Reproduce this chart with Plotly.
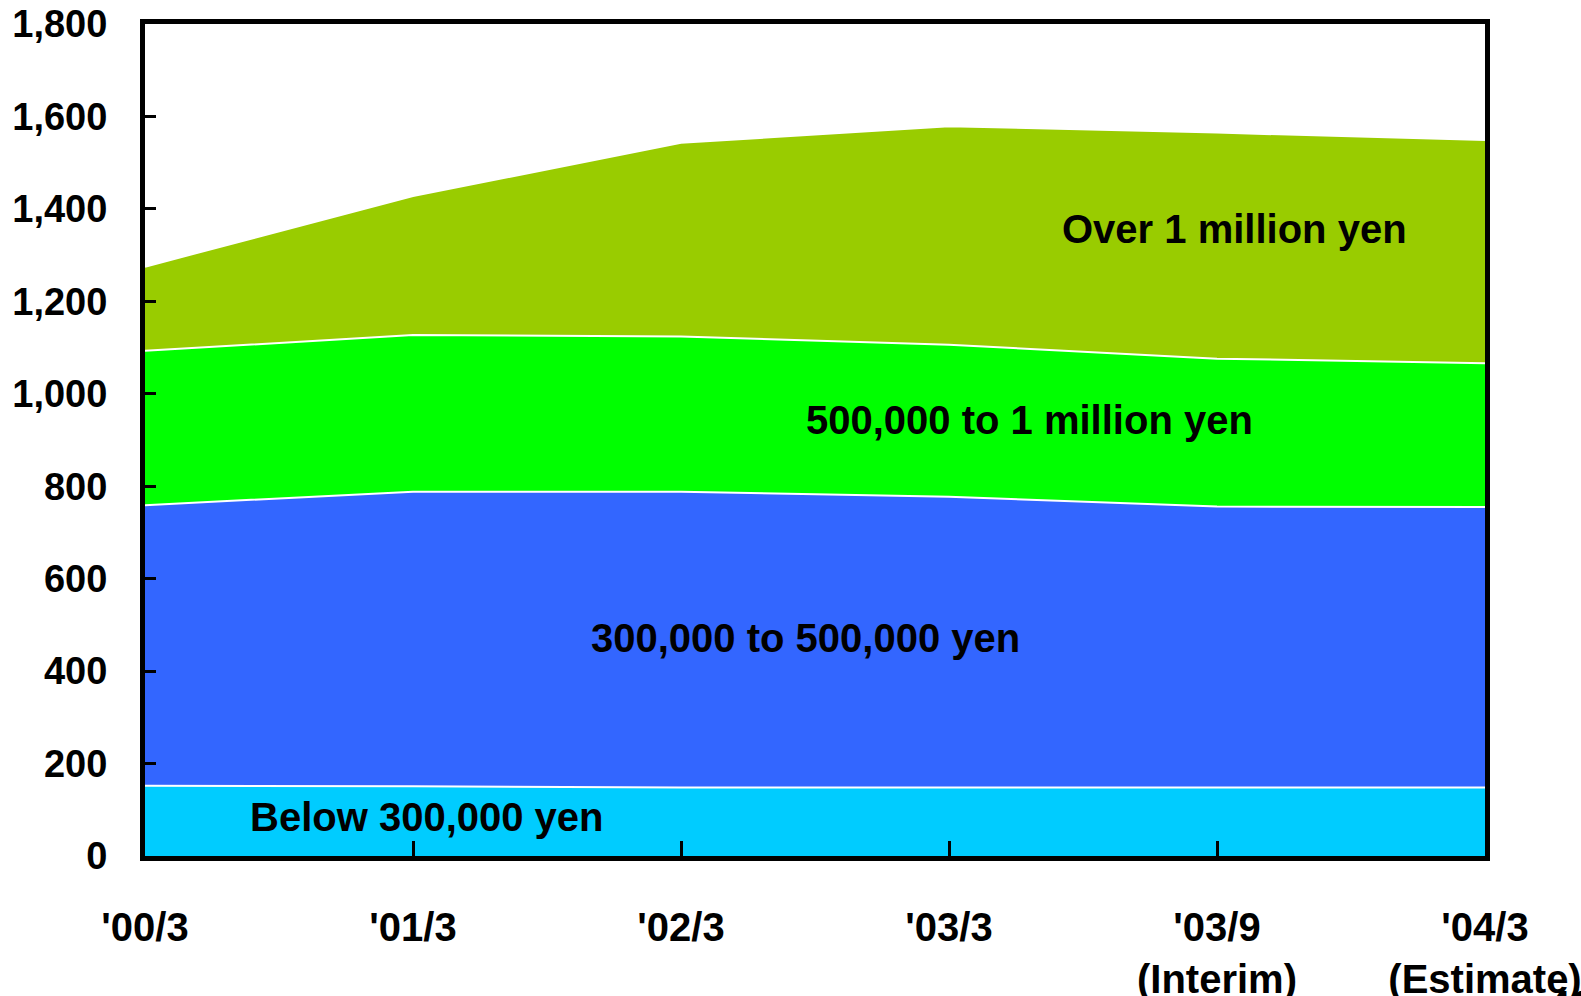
import plotly.graph_objects as go

# Fiscal periods and stacked series (count by bracket)
periods = ["'00/3", "'01/3", "'02/3", "'03/3", "'03/9<br>(Interim)", "'04/3<br>(Estimate)"]
below_300k = [152, 151, 148, 148, 148, 148]
from_300k_to_500k = [607, 637, 640, 629, 608, 607]
from_500k_to_1m = [334, 339, 336, 329, 320, 311]
over_1m = [182, 301, 419, 473, 489, 483]

series_names = ["Below 300,000 yen", "300,000 to 500,000 yen",
                "500,000 to 1 million yen", "Over 1 million yen"]
series_values = [below_300k, from_300k_to_500k, from_500k_to_1m, over_1m]
series_colors = ["#00CCFF", "#3366FF", "#00FF00", "#99CC00"]

y_ticks = [0, 200, 400, 600, 800, 1000, 1200, 1400, 1600, 1800]
y_tick_text = ["0", "200", "400", "600", "800", "1,000", "1,200", "1,400", "1,600", "1,800"]

x_pos = list(range(len(periods)))

fig = go.Figure()
for name, vals, color in zip(series_names, series_values, series_colors):
    fig.add_trace(go.Scatter(
        x=x_pos, y=vals, name=name, mode="lines",
        stackgroup="one", fillcolor=color,
        line=dict(color="white", width=2),
        hoverinfo="name+y",
    ))

label_font = dict(family="Liberation Sans, Arial, sans-serif", size=40, color="black", weight="bold")
# In-area series labels
labels = [
    ("Over 1 million yen", 4.065, 1357),
    ("500,000 to 1 million yen", 3.30, 943),
    ("300,000 to 500,000 yen", 2.465, 472),
    ("Below 300,000 yen", 1.054, 85),
]
for text, lx, ly in labels:
    fig.add_annotation(x=lx, y=ly, xref="x", yref="y", text=text, showarrow=False,
                       font=label_font, xanchor="center", yanchor="middle")

# Page number peeking in at the bottom-right corner
fig.add_annotation(x=1.0455, y=-0.150, xref="paper", yref="paper", text="41", showarrow=False,
                   font=label_font, xanchor="left", yanchor="top")

x_tick_font = dict(family="Liberation Sans, Arial, sans-serif", size=40, color="black", weight="bold")
y_tick_font = dict(family="Liberation Sans, Arial, sans-serif", size=38, color="black", weight="bold")

fig.update_layout(
    width=1581, height=996,
    margin=dict(l=145, r=96, t=24, b=140, autoexpand=False),
    paper_bgcolor="white", plot_bgcolor="white",
    showlegend=False,
    xaxis=dict(
        range=[0, 5], tickmode="array", tickvals=x_pos, ticktext=periods,
        ticks="inside", ticklen=15, tickwidth=3, tickcolor="black",
        showline=True, linecolor="black", linewidth=5, mirror=True,
        showgrid=False, zeroline=False, tickfont=x_tick_font,
        ticklabelstandoff=32, ticklabeloverflow="allow", automargin=False,
    ),
    yaxis=dict(
        range=[0, 1800], tickmode="array", tickvals=y_ticks, ticktext=y_tick_text,
        ticks="inside", ticklen=11, tickwidth=3, tickcolor="black",
        showline=True, linecolor="black", linewidth=5, mirror=True,
        showgrid=False, zeroline=False, tickfont=y_tick_font,
        ticklabelstandoff=25, ticklabeloverflow="allow", automargin=False,
    ),
)

fig.write_html("out.html")
